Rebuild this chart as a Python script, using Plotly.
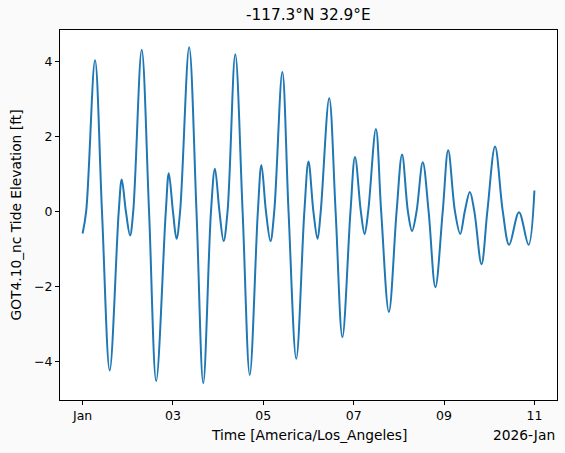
import pandas as pd
import plotly.graph_objects as go

# Время в часах от 2026-01-01 00:00 (America/Los_Angeles): экстремумы и пересечения нуля
hours = [
    0.0, 1.9, 6.6, 10.3, 14.4, 19.2, 20.8, 23.0, 25.2, 26.9,
    31.4, 35.3, 39.1, 44.2, 45.8, 48.0, 49.9, 51.8, 56.6, 60.5,
    64.1, 68.2, 70.3, 72.7, 74.9, 77.0, 81.1, 85.0, 88.8, 93.1,
    95.0, 97.4, 99.8, 101.8, 106.1, 109.4, 113.5, 117.8, 120.0, 122.6,
    124.8, 126.5, 131.0, 134.4, 138.0, 142.3, 144.7, 147.8, 149.8, 151.7,
    155.8, 158.6, 162.7, 166.8, 169.7, 172.8, 175.0, 177.4, 180.7, 183.8,
    187.4, 191.3, 194.2, 197.8, 200.6, 203.0, 205.7, 208.1, 211.9, 215.0,
    219.1, 223.2, 226.6, 231.8, 236.9, 240.0,
]

# Уровень прилива, футы
elevation_ft = [
    -0.59, 0, 4.03, 0, -4.24, 0, 0.85, 0, -0.64, 0,
    4.31, 0, -4.52, 0, 1.02, 0, -0.73, 0, 4.38, 0,
    -4.58, 0, 1.14, 0, -0.79, 0, 4.19, 0, -4.36, 0,
    1.24, 0, -0.79, 0, 3.72, 0, -3.93, 0, 1.33, 0,
    -0.73, 0, 3.02, 0, -3.35, 0, 1.45, 0, -0.60, 0,
    2.20, 0, -2.68, 0, 1.52, 0, -0.52, 0, 1.31, 0,
    -2.02, 0, 1.63, 0, -0.60, 0, 0.52, 0, -1.41, 0,
    1.73, 0, -0.89, -0.02, -0.89, 0.56,
]

tick_dates = ["2026-01-01", "2026-01-03", "2026-01-05", "2026-01-07", "2026-01-09", "2026-01-11"]
tick_labels = ["Jan", "03", "05", "07", "09", "11"]
y_ticks = [-4, -2, 0, 2, 4]

start = pd.Timestamp("2026-01-01 00:00")
times = start + pd.to_timedelta(hours, unit="h")

font_family = "DejaVu Sans, Verdana, sans-serif"

fig = go.Figure()

# Линия прилива
fig.add_trace(go.Scatter(
    x=times,
    y=elevation_ft,
    mode='lines',
    line=dict(color='#1f77b4', width=2, shape='spline', smoothing=1.0),
    hoverinfo='x+y',
    showlegend=False
))

axis_style = dict(
    showline=True,
    linecolor='black',
    linewidth=1,
    mirror=True,
    showgrid=False,
    zeroline=False,
    ticks='outside',
    ticklen=4,
    tickwidth=1,
    tickcolor='black',
    tickfont=dict(family=font_family, size=12.5, color='black'),
)

fig.update_layout(
    width=565,
    height=453,
    paper_bgcolor='#fafafa',
    plot_bgcolor='white',
    margin=dict(l=60, r=8, t=30, b=53, pad=0),
    font=dict(family=font_family, size=13.8, color='black'),
    xaxis=dict(
        range=[start - pd.Timedelta(hours=12), start + pd.Timedelta(hours=252)],
        tickvals=pd.to_datetime(tick_dates),
        ticktext=tick_labels,
        **axis_style
    ),
    yaxis=dict(
        range=[-5.03, 4.84],
        tickvals=y_ticks,
        ticktext=[str(v).replace('-', '\u2212') for v in y_ticks],
        **axis_style
    ),
    annotations=[
        # Заголовок
        dict(text='-117.3°N 32.9°E', xref='paper', yref='paper', x=0.5, y=1,
             yshift=15, xanchor='center', yanchor='middle', showarrow=False,
             font=dict(size=15.3)),
        # Подпись оси X
        dict(text='Time [America/Los_Angeles]', xref='paper', yref='paper', x=0.5, y=0,
             yshift=-35, xanchor='center', yanchor='middle', showarrow=False),
        # Смещение даты (как у ConciseDateFormatter)
        dict(text='2026-Jan', xref='paper', yref='paper', x=1, y=0,
             yshift=-35, xanchor='right', yanchor='middle', showarrow=False),
        # Подпись оси Y
        dict(text='GOT4.10_nc Tide Elevation [ft]', xref='paper', yref='paper', x=0, y=0.5,
             xshift=-44.5, xanchor='center', yanchor='middle', textangle=-90, showarrow=False),
    ],
)

# Убираем отступ страницы, чтобы рисунок стоял в углу окна
fig.write_html(
    "out.html",
    config={'displayModeBar': False},
    post_script="document.body.style.margin='0';document.body.style.background='#fafafa';"
)
